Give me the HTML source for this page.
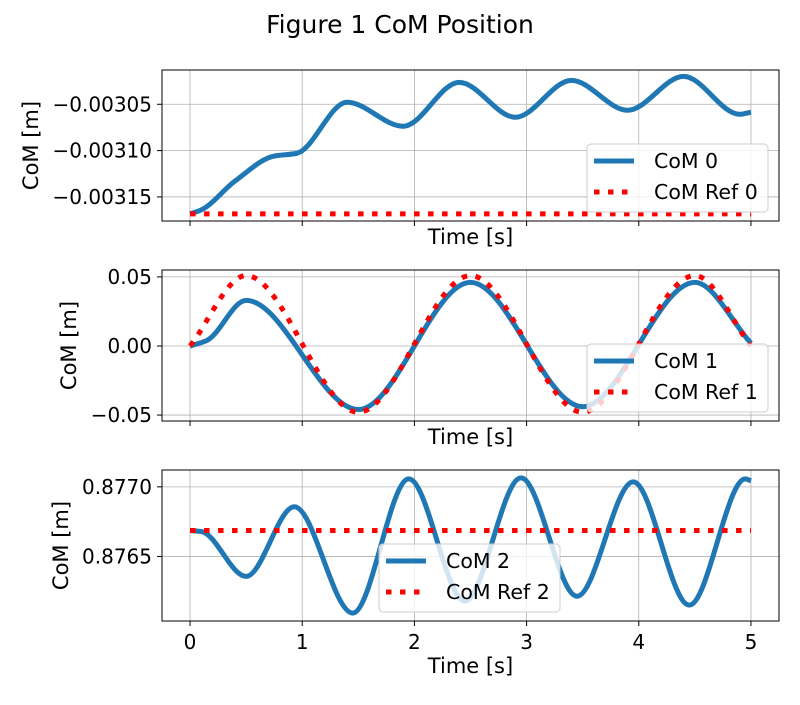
<!DOCTYPE html>
<html><head><meta charset="utf-8"><style>
html,body{margin:0;padding:0;background:#fff;}
svg{font-family:"DejaVu Sans","Liberation Sans",sans-serif;}
</style></head><body>
<svg id="fig" width="800" height="700" xmlns="http://www.w3.org/2000/svg">
<text x="400" y="33" text-anchor="middle" font-size="25">Figure 1 CoM Position</text>
</svg>
<script>
// ---- data ----
const com0T = [0,0.1,0.4,0.75,0.95,1.4,1.9,2.4,2.9,3.4,3.9,4.4,4.9,5.0];
const com0V = [-0.0031683,-0.0031640,-0.0031330,-0.0031059,-0.0031030,-0.0030478,-0.0030737,-0.0030263,-0.0030640,-0.0030242,-0.0030565,-0.0030199,-0.0030608,-0.0030586];
const ref0T = [0,5];
const ref0V = [-0.0031683,-0.0031683];
const com1T = [0,0.15,0.5,1.5,2.5,3.5,4.5,5];
const com1V = [0,0.004,0.033,-0.046,0.046,-0.044,0.046,0.002];
const ref1T = [0,0.5,1.5,2.5,3.5,4.5,5];
const ref1V = [0,0.051,-0.048,0.051,-0.048,0.051,0];
const com2T = [0,0.1,0.5,0.93,1.45,1.95,2.45,2.95,3.45,3.95,4.45,4.95,5.0];
const com2V = [0.876686,0.876679,0.876357,0.876857,0.876093,0.877057,0.876179,0.877064,0.876214,0.877036,0.876150,0.877057,0.877043];
const ref2T = [0,5];
const ref2V = [0.876686,0.876686];
const xTicks = [0,1,2,3,4,5];
const yTicks0 = [-0.00305,-0.00310,-0.00315];
const yTickLabels0 = ["\u22120.00305","\u22120.00310","\u22120.00315"];
const yTicks1 = [0.05,0,-0.05];
const yTickLabels1 = ["0.05","0.00","\u22120.05"];
const yTicks2 = [0.8770,0.8765];
const yTickLabels2 = ["0.8770","0.8765"];

const NS="http://www.w3.org/2000/svg";
const fig=document.getElementById('fig');
function mk(tag,attrs,parent){const e=document.createElementNS(NS,tag);for(const k in attrs)e.setAttribute(k,attrs[k]);(parent||fig).appendChild(e);return e;}

function monoPath(xs,ys){
  const n=xs.length; if(n<3){return 'M'+xs.map((x,i)=>x+','+ys[i]).join(' L');}
  const d=[],m=new Array(n);
  for(let i=0;i<n-1;i++)d.push((ys[i+1]-ys[i])/(xs[i+1]-xs[i]));
  m[0]=d[0];m[n-1]=d[n-2];
  for(let i=1;i<n-1;i++){ if(d[i-1]*d[i]<=0)m[i]=0; else { const h0=xs[i]-xs[i-1],h1=xs[i+1]-xs[i]; const w1=2*h1+h0,w2=h1+2*h0; m[i]=(w1+w2)/(w1/d[i-1]+w2/d[i]); } }
  let p='M'+xs[0]+','+ys[0];
  for(let i=0;i<n-1;i++){const h=xs[i+1]-xs[i];
    p+=' C'+(xs[i]+h/3)+','+(ys[i]+m[i]*h/3)+' '+(xs[i+1]-h/3)+','+(ys[i+1]-m[i+1]*h/3)+' '+xs[i+1]+','+ys[i+1];}
  return p;
}

function panel(o){
  const L=162,R=779,T=o.top,B=o.top+151;
  const sx=t=>L+(t+0.25)/5.5*(R-L);
  const sy=v=>B-(v-o.ymin)/(o.ymax-o.ymin)*(B-T);
  const g=mk('g',{});
  
  
  xTicks.forEach(t=>{const x=sx(t);
    const gl=mk('line',{x1:x,x2:x,y1:T,y2:B,stroke:'#b0b0b0','stroke-width':0.8},g);
    
    mk('line',{x1:x,x2:x,y1:B,y2:B+5,stroke:'#000','stroke-width':1},g);
    if(o.showX){const tx=mk('text',{x:x,y:B+28,'text-anchor':'middle','font-size':20},g);tx.textContent=String(t);
      }
  });
  o.yt.forEach((v,i)=>{const y=sy(v);
    const gl=mk('line',{x1:L,x2:R,y1:y,y2:y,stroke:'#b0b0b0','stroke-width':0.8},g);
    
    mk('line',{x1:L-5,x2:L,y1:y,y2:y,stroke:'#000','stroke-width':1},g);
    const tx=mk('text',{x:L-10,y:y+7,'text-anchor':'end','font-size':20},g);tx.textContent=o.ytl[i];
    
  });
  const clip=mk('clipPath',{id:'c'+o.top},g);mk('rect',{x:L,y:T,width:R-L,height:B-T},clip);
  const s1=mk('path',{d:monoPath(o.comT.map(sx),o.comV.map(sy)),fill:'none',stroke:'#1f77b4','stroke-width':5,'clip-path':'url(#c'+o.top+')'},g);
  
  const s2=mk('path',{d:monoPath(o.refT.map(sx),o.refV.map(sy)),fill:'none',stroke:'#ff0000','stroke-width':5,'stroke-dasharray':'5.5 8.5','clip-path':'url(#c'+o.top+')'},g);
  
  const fr=mk('rect',{x:L,y:T,width:R-L,height:B-T,fill:'none',stroke:'#000','stroke-width':1},g);
  
  const xl=mk('text',{x:(L+R)/2,y:B+(o.showX?52:23),'text-anchor':'middle','font-size':21},g);xl.textContent='Time [s]';
  
  const yl=mk('text',{x:0,y:0,'text-anchor':'middle','font-size':21,transform:'translate('+o.ylx+','+(T+B)/2+') rotate(-90)'},g);yl.textContent='CoM [m]';
  
  // legend
  const lg=mk('g',{},g);
  
  mk('rect',{x:o.lx,y:o.ly,width:181,height:68,rx:4,fill:'#fff','fill-opacity':0.8,stroke:'#cccccc','stroke-width':1},lg);
  mk('line',{x1:o.lx+7,x2:o.lx+47,y1:o.ly+17,y2:o.ly+17,stroke:'#1f77b4','stroke-width':5},lg);
  mk('line',{x1:o.lx+7,x2:o.lx+47,y1:o.ly+48,y2:o.ly+48,stroke:'#ff0000','stroke-width':5,'stroke-dasharray':'5.5 8.5'},lg);
  const a=mk('text',{x:o.lx+67,y:o.ly+24,'font-size':20.5},lg);a.textContent='CoM '+o.idx;
  
  const b=mk('text',{x:o.lx+67,y:o.ly+55,'font-size':20.5},lg);b.textContent='CoM Ref '+o.idx;
  
}
panel({name:'subplot-com0',label:'com0',idx:0,top:70,ymin:-0.003176,ymax:-0.003013,yt:yTicks0,ytl:yTickLabels0,comT:com0T,comV:com0V,refT:ref0T,refV:ref0V,showX:false,ylx:38,lx:587,ly:144});
panel({name:'subplot-com1',label:'com1',idx:1,top:270,ymin:-0.0543,ymax:0.055,yt:yTicks1,ytl:yTickLabels1,comT:com1T,comV:com1V,refT:ref1T,refV:ref1V,showX:false,ylx:76,lx:587,ly:344});
panel({name:'subplot-com2',label:'com2',idx:2,top:470,ymin:0.876036,ymax:0.877121,yt:yTicks2,ytl:yTickLabels2,comT:com2T,comV:com2V,refT:ref2T,refV:ref2V,showX:true,ylx:68,lx:379,ly:544});
</script>
</body></html>
